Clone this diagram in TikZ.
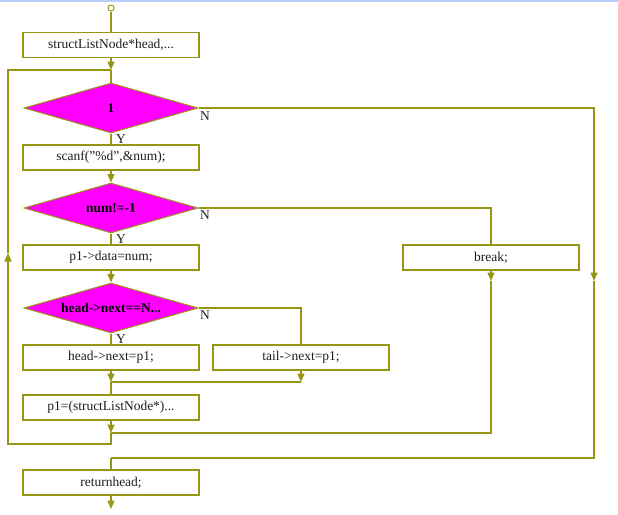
\documentclass[tikz,border=0pt]{standalone}
\usepackage{fontspec}
\setmainfont{Liberation Serif}
\usetikzlibrary{shapes.geometric,arrows.meta}
\definecolor{ol}{RGB}{150,150,20}
\definecolor{mag}{RGB}{255,0,255}
\definecolor{topb}{RGB}{185,205,250}
\definecolor{txt}{RGB}{30,30,30}
\begin{document}
\begin{tikzpicture}[x=1pt,y=-1pt,
 box/.style={draw=ol,line width=1.3pt,minimum width=176pt,minimum height=25pt,inner sep=0pt,text=txt,font=\fontsize{13.5}{15}\selectfont},
 dec/.style={diamond,draw=ol,fill=mag,line width=1pt,minimum width=174pt,minimum height=50pt,inner sep=0pt},
 dtext/.style={font=\fontsize{13.5}{15}\selectfont\bfseries,inner sep=0pt,text=black},
 lab/.style={font=\fontsize{13.5}{15}\selectfont,inner sep=0pt,text=txt},
 ln/.style={draw=ol,line width=1.3pt},
 arr/.style={ln,-{Triangle[length=8.5pt,width=7pt]}}
]
\useasboundingbox (0,0) rectangle (618,514);
\draw[topb,line width=1.5pt] (0,0.75) -- (618,0.75);

\node[circle,draw=ol,line width=1pt,minimum size=6pt,inner sep=0pt,fill=white] (start) at (111,8) {};
\node[box] (b1) at (111,45) {structListNode*head,...};
\node[dec] (d1) at (111,108) {};
\node[dtext] (t1) at (d1) {1};
\node[box] (b2) at (111,157.5) {scanf(\char"22\%d\char"22,\&num);};
\node[dec] (d2) at (111,208) {};
\node[dtext] (t2) at (d2) {num!=-1};
\node[box] (b3) at (111,257.5) {p1->data=num;};
\node[box] (brk) at (491,257.5) {break;};
\node[dec] (d3) at (111,308) {};
\node[dtext] (t3) at (d3) {head->next==N...};
\node[box] (b4) at (111,357.5) {head->next=p1;};
\node[box] (b5) at (301,357.5) {tail->next=p1;};
\node[box] (b6) at (111,407.5) {p1=(structListNode*)...};
\node[box] (b7) at (111,482.5) {returnhead;};

\node[lab] (n1) at (205,116) {N};
\node[lab] (y1) at (121,139.5) {Y};
\node[lab] (n2) at (205,215) {N};
\node[lab] (y2) at (121,239.5) {Y};
\node[lab] (n3) at (205,315) {N};
\node[lab] (y3) at (121,339.5) {Y};

\coordinate (j1) at (111,70);
\coordinate (lp1) at (8,70);
\coordinate (lp2) at (8,444);
\coordinate (lp3) at (111,444);
\coordinate (la) at (8,253);
\coordinate (j2) at (111,382);
\coordinate (j2r) at (301,382);
\coordinate (j3) at (111,433);
\coordinate (ra) at (594,281);
\coordinate (rc) at (111,458);
\coordinate (ba) at (491,281);
\coordinate (fin) at (111,509);

\draw[ln] (start) -- (b1);
\draw[arr] (b1) -- (j1);
\draw[ln] (j1) -- (d1);
\draw[arr] (d1.east) -| (ra);
\draw[ln] (ra) |- (rc);
\draw[ln] (rc) -- (b7);
\draw[ln] (d1) -- (b2);
\draw[arr] (b2) -- (d2);
\draw[ln] (d2.east) -| (brk);
\draw[ln] (d2) -- (b3);
\draw[arr] (b3) -- (d3);
\draw[ln] (d3.east) -| (b5);
\draw[ln] (d3) -- (b4);
\draw[ln] (j2) -- (j2r);
\draw[arr] (b4) -- (j2);
\draw[arr] (b5) -- (j2r);
\draw[ln] (j2) -- (b6);
\draw[arr] (brk) -- (ba);
\draw[ln] (ba) |- (j3);
\draw[arr] (b6) -- (j3);
\draw[arr] (j3) -- (lp3) -- (lp2) -- (la);
\draw[ln] (la) -- (lp1) -- (j1);
\draw[arr] (b7) -- (fin);
\end{tikzpicture}
\end{document}
